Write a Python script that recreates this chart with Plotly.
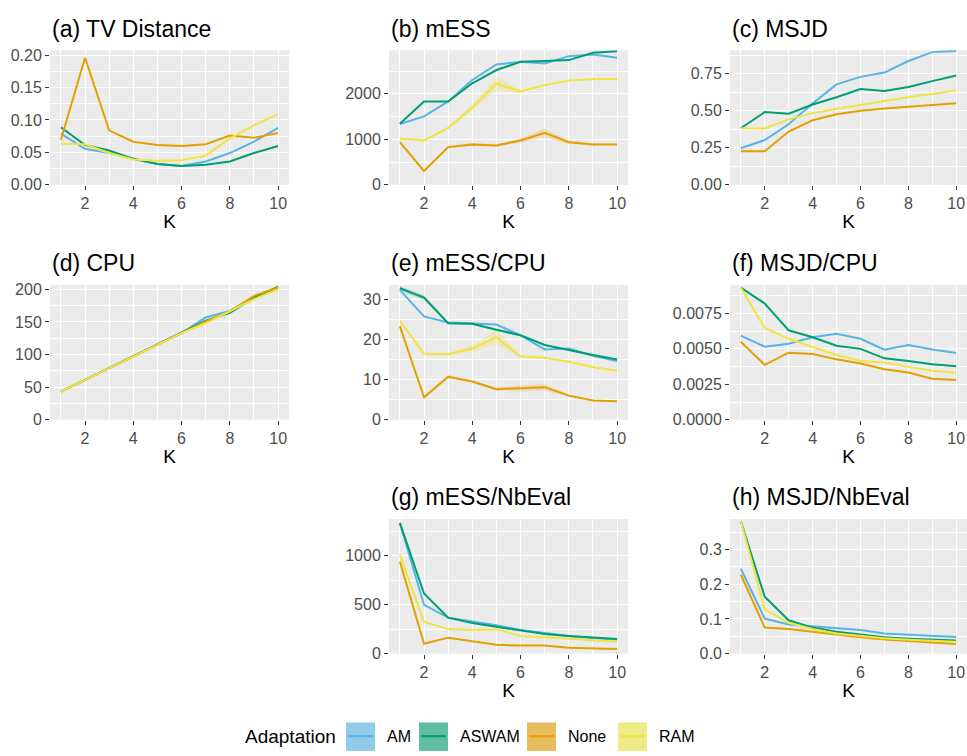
import plotly.graph_objects as go

# ---------------- data ----------------
K = [1, 2, 3, 4, 5, 6, 7, 8, 9, 10]
methods = ["AM", "ASWAM", "None", "RAM"]

# (a) TV Distance
tv_am = [0.079, 0.0555, 0.049, 0.040, 0.032, 0.029, 0.036, 0.049, 0.0665, 0.088]
tv_aswam = [0.0887, 0.0615, 0.053, 0.040, 0.032, 0.029, 0.031, 0.036, 0.049, 0.060]
tv_none = [0.069, 0.196, 0.084, 0.0665, 0.0615, 0.060, 0.0625, 0.076, 0.0725, 0.080]
tv_ram = [0.0635, 0.0625, 0.049, 0.039, 0.037, 0.038, 0.045, 0.0715, 0.0917, 0.109]

# (b) mESS
mess_am = [1338, 1505, 1833, 2305, 2647, 2705, 2669, 2829, 2865, 2793]
mess_aswam = [1345, 1833, 1833, 2233, 2524, 2705, 2720, 2742, 2902, 2938]
mess_none = [938, 305, 829, 887, 865, 975, 1142, 938, 887, 887]
mess_ram = [1018, 975, 1251, 1702, 2225, 2051, 2196, 2291, 2327, 2327]
mess_none_ci = [20, 20, 30, 30, 30, 45, 95, 40, 20, 20]
mess_ram_ci = [20, 20, 30, 70, 150, 30, 20, 20, 20, 20]

# (c) MSJD
msjd_am = [0.247, 0.302, 0.409, 0.549, 0.678, 0.729, 0.758, 0.836, 0.896, 0.904]
msjd_aswam = [0.382, 0.491, 0.480, 0.542, 0.591, 0.647, 0.633, 0.660, 0.700, 0.738]
msjd_none = [0.227, 0.227, 0.360, 0.436, 0.476, 0.500, 0.516, 0.529, 0.542, 0.551]
msjd_ram = [0.382, 0.380, 0.442, 0.484, 0.513, 0.540, 0.567, 0.591, 0.613, 0.638]

# (d) CPU
cpu_am = [43, 61, 79, 97, 115, 133, 157, 167, 188, 203]
cpu_aswam = [43, 61, 79, 97, 115, 133, 152, 164, 187, 204]
cpu_none = [43, 61, 79, 97, 115, 133, 151, 166, 190, 203]
cpu_ram = [43, 61, 79, 97, 115, 133, 148, 167, 185, 200]

# (e) mESS/CPU
messcpu_am = [32.3, 25.7, 24.2, 24.0, 23.7, 21.0, 17.5, 17.7, 15.9, 14.6]
messcpu_aswam = [32.7, 30.4, 24.0, 23.9, 22.4, 21.0, 18.6, 17.3, 16.1, 15.0]
messcpu_none = [23.3, 5.6, 10.7, 9.5, 7.6, 7.8, 8.1, 6.0, 4.8, 4.6]
messcpu_ram = [24.6, 16.4, 16.3, 17.7, 20.5, 15.7, 15.4, 14.4, 13.1, 12.2]
messcpu_aswam_ci = [0.6, 0.6, 0.3, 0.3, 0.3, 0.2, 0.2, 0.2, 0.2, 0.2]
messcpu_none_ci = [0.3, 0.3, 0.4, 0.3, 0.3, 0.8, 0.8, 0.3, 0.2, 0.2]
messcpu_ram_ci = [0.3, 0.3, 0.3, 0.8, 1.8, 0.3, 0.2, 0.2, 0.2, 0.2]

# (f) MSJD/CPU
msjdcpu_am = [0.00594, 0.00515, 0.00536, 0.00582, 0.00606, 0.00571, 0.00494, 0.00527, 0.00496, 0.00471]
msjdcpu_aswam = [0.00932, 0.0082, 0.00631, 0.00582, 0.00522, 0.0050, 0.00433, 0.00415, 0.00391, 0.00377]
msjdcpu_none = [0.0055, 0.00387, 0.00473, 0.00464, 0.00426, 0.00396, 0.00356, 0.00333, 0.00289, 0.0028]
msjdcpu_ram = [0.00932, 0.00648, 0.00571, 0.00515, 0.00457, 0.00415, 0.00403, 0.00373, 0.00345, 0.00331]

# (g) mESS/NbEval
messnb_am = [1333, 497, 367, 327, 290, 240, 207, 180, 160, 143]
messnb_aswam = [1333, 613, 367, 313, 273, 240, 200, 180, 163, 150]
messnb_none = [940, 100, 163, 123, 90, 83, 83, 60, 50, 47]
messnb_ram = [1013, 323, 250, 240, 247, 180, 167, 150, 137, 120]

# (h) MSJD/NbEval
msjdnb_am = [0.245, 0.101, 0.084, 0.079, 0.074, 0.068, 0.058, 0.055, 0.053, 0.048]
msjdnb_aswam = [0.382, 0.164, 0.096, 0.075, 0.063, 0.056, 0.047, 0.043, 0.040, 0.038]
msjdnb_none = [0.228, 0.075, 0.071, 0.063, 0.054, 0.047, 0.041, 0.037, 0.033, 0.028]
msjdnb_ram = [0.382, 0.128, 0.089, 0.071, 0.058, 0.051, 0.044, 0.040, 0.037, 0.034]

titles = ["(a) TV Distance", "(b) mESS", "(c) MSJD", "(d) CPU",
          "(e) mESS/CPU", "(f) MSJD/CPU", "(g) mESS/NbEval", "(h) MSJD/NbEval"]
y_dticks = [0.05, 1000, 0.25, 50, 10, 0.0025, 500, 0.1]
y_formats = [".2f", "d", ".2f", "d", "d", ".4f", "d", ".1f"]
y_tops = [0.2076, 2960, 0.909, 206.6, 33.5, 0.0095, 1373, 0.388]

# ---------------- style ----------------
colors = {"AM": "#56B4E9", "ASWAM": "#009E73", "None": "#E69F00", "RAM": "#F0E442"}
ribbon = {"AM": "rgba(86,180,233,0.22)", "ASWAM": "rgba(0,158,115,0.22)",
          "None": "rgba(230,159,0,0.22)", "RAM": "rgba(240,228,66,0.28)"}
keyfill = {"AM": "rgb(146,202,234)", "ASWAM": "rgb(94,189,163)",
           "None": "rgb(232,189,94)", "RAM": "rgb(238,235,134)"}
FONT = "Liberation Sans, Arial, Helvetica, sans-serif"
W, H = 967, 756

panel_data = [
    {"AM": tv_am, "ASWAM": tv_aswam, "None": tv_none, "RAM": tv_ram},
    {"AM": mess_am, "ASWAM": mess_aswam, "None": mess_none, "RAM": mess_ram},
    {"AM": msjd_am, "ASWAM": msjd_aswam, "None": msjd_none, "RAM": msjd_ram},
    {"AM": cpu_am, "ASWAM": cpu_aswam, "None": cpu_none, "RAM": cpu_ram},
    {"AM": messcpu_am, "ASWAM": messcpu_aswam, "None": messcpu_none, "RAM": messcpu_ram},
    {"AM": msjdcpu_am, "ASWAM": msjdcpu_aswam, "None": msjdcpu_none, "RAM": msjdcpu_ram},
    {"AM": messnb_am, "ASWAM": messnb_aswam, "None": messnb_none, "RAM": messnb_ram},
    {"AM": msjdnb_am, "ASWAM": msjdnb_aswam, "None": msjdnb_none, "RAM": msjdnb_ram},
]
panel_ci = {
    1: {"None": mess_none_ci, "RAM": mess_ram_ci},
    4: {"ASWAM": messcpu_aswam_ci, "None": messcpu_none_ci, "RAM": messcpu_ram_ci},
}

# panel pixel boxes: (left, right, top, bottom)
cols = [(50, 289), (389, 628), (730, 967)]
rows = [(47, 184), (286, 423), (524, 661)]
cells = [(0, 0), (0, 1), (0, 2), (1, 0), (1, 1), (1, 2), (2, 1), (2, 2)]

fig = go.Figure()
layout = dict(
    width=W, height=H, margin=dict(l=0, r=0, t=0, b=0),
    paper_bgcolor="white", plot_bgcolor="#EBEBEB",
    showlegend=False, font=dict(family=FONT, color="#4D4D4D"),
)
annotations = []
shapes = []

for i, (r, c) in enumerate(cells):
    ax = "" if i == 0 else str(i + 1)
    xl, xr = cols[c]
    yt, yb = rows[r]
    data = panel_data[i]
    cis = panel_ci.get(i, {})
    # ribbons
    for m in methods:
        if m in cis:
            lo = [v - e for v, e in zip(data[m], cis[m])]
            hi = [v + e for v, e in zip(data[m], cis[m])]
            fig.add_trace(go.Scatter(x=K, y=lo, mode="lines", line=dict(width=0),
                                     xaxis="x" + ax, yaxis="y" + ax, hoverinfo="skip"))
            fig.add_trace(go.Scatter(x=K, y=hi, mode="lines", line=dict(width=0),
                                     fill="tonexty", fillcolor=ribbon[m],
                                     xaxis="x" + ax, yaxis="y" + ax, hoverinfo="skip"))
    for m in methods:
        fig.add_trace(go.Scatter(x=K, y=data[m], mode="lines", name=m,
                                 line=dict(color=colors[m], width=2),
                                 xaxis="x" + ax, yaxis="y" + ax))
    layout["xaxis" + ax] = dict(
        domain=[xl / W, xr / W], anchor="y" + ax, range=[0.55, 10.45],
        tickvals=[2, 4, 6, 8, 10], ticks="outside", ticklen=4, tickwidth=1.1,
        tickcolor="#333333", tickfont=dict(size=16, color="#4D4D4D", family=FONT),
        showgrid=True, gridcolor="white", gridwidth=1.2, zeroline=False, showline=False,
        minor=dict(tickvals=[1, 3, 5, 7, 9], showgrid=True, gridcolor="white", gridwidth=0.6, ticks=""),
        title=dict(text="K", font=dict(size=19, color="black", family=FONT), standoff=3),
    )
    d = y_dticks[i]
    layout["yaxis" + ax] = dict(
        domain=[1 - yb / H, 1 - yt / H], anchor="x" + ax, range=[0, y_tops[i]],
        tick0=0, dtick=d, tickformat=y_formats[i], ticks="outside", ticklen=4, tickwidth=1.1,
        tickcolor="#333333", tickfont=dict(size=16, color="#4D4D4D", family=FONT),
        showgrid=True, gridcolor="white", gridwidth=1.2, zeroline=False, showline=False,
        minor=dict(tick0=d / 2, dtick=d, showgrid=True, gridcolor="white", gridwidth=0.6, ticks=""),
    )
    annotations.append(dict(text=titles[i], xref="paper", yref="paper", x=xl / W, y=1 - (yt - 22) / H,
                            xanchor="left", yanchor="middle", showarrow=False,
                            font=dict(size=23, color="black", family=FONT)))

# ---------------- legend (drawn by hand, ggplot style) ----------------
leg_y = 745
annotations.append(dict(text="Adaptation", xref="paper", yref="paper", x=243 / W, y=1 - leg_y / H,
                        xanchor="left", yanchor="middle", showarrow=False,
                        font=dict(size=19, color="black", family=FONT)))
key_x = {"AM": 346, "ASWAM": 419, "None": 527, "RAM": 618}
for m in methods:
    x0 = key_x[m]
    shapes.append(dict(type="rect", xref="paper", yref="paper", x0=x0 / W, x1=(x0 + 29) / W,
                       y0=1 - 760 / H, y1=1 - 731 / H, fillcolor=keyfill[m], line=dict(width=0)))
    shapes.append(dict(type="line", xref="paper", yref="paper", x0=(x0 + 2) / W, x1=(x0 + 27) / W,
                       y0=1 - leg_y / H, y1=1 - leg_y / H, line=dict(color=colors[m], width=2.2)))
    annotations.append(dict(text=m, xref="paper", yref="paper", x=(x0 + 39) / W, y=1 - leg_y / H,
                            xanchor="left", yanchor="middle", showarrow=False,
                            font=dict(size=16, color="black", family=FONT)))

layout["annotations"] = annotations
layout["shapes"] = shapes
fig.update_layout(**layout)
fig.write_html("out.html", config={"displayModeBar": False},
               post_script="document.body.style.margin='0px';document.body.style.overflow='hidden';")
